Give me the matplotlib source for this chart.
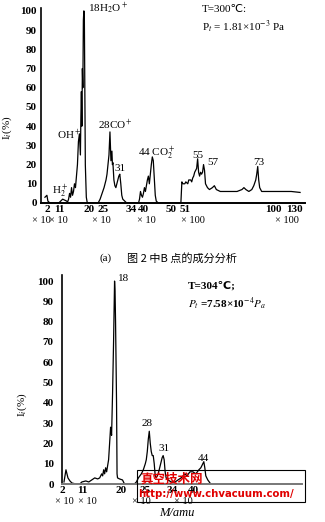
import matplotlib
matplotlib.use("Agg")
import matplotlib.pyplot as plt
from matplotlib.patches import Rectangle

plt.rcParams["font.family"] = ["Liberation Serif", "DejaVu Sans", "Noto Sans CJK SC"]
plt.rcParams["mathtext.fontset"] = "stix"

# spectrum (a): scan position along the recorder axis, intensity in %
scan_a = [0, 2, 3, 5, 14, 16, 18, 20, 22, 23, 24, 25, 26, 27, 28, 29, 30, 31, 32, 33,
          34, 35, 36, 36.5, 37, 37.5, 38, 38.5, 39, 39.5, 40, 40.5, 41, 42, 43, 54,
          56, 58, 60, 61, 62, 63, 64, 65, 66, 66.5, 67, 68, 68.5, 69, 70, 71, 72, 73,
          74, 75, 76, 77, 78, 79, 81, 83, 95, 96, 97, 98, 99, 100, 101, 102, 103, 104,
          105, 106, 107, 108, 109, 110, 111, 112, 113, 115, 138, 139, 140, 142, 143,
          145, 146, 148, 149, 150, 151, 152, 153, 154, 155, 156, 157, 158, 159, 160,
          161, 162, 163, 165, 167, 170, 172, 174, 178, 185, 190, 195, 200, 202, 204,
          207, 210, 212, 214, 215, 216, 217, 218, 220, 230, 240, 250, 259]
int_a = [3, 4, 1, 0, 0, 1, 2, 1.5, 1, 0.5, 2, 5, 3, 8, 4, 6, 10, 8, 14, 20,
         32, 36, 25, 45, 58, 40, 70, 60, 95, 100, 98, 60, 20, 3, 0, 0,
         2, 5, 8, 10, 12, 15, 20, 25, 37, 30, 22, 27, 20, 21, 12, 9, 8, 10,
         12, 14, 15, 10, 4, 2, 1, 0, 0, 2, 6, 4, 3, 5, 8, 6, 9, 12,
         14, 10, 15, 20, 24, 22, 13, 4, 1, 0, 0, 11, 10, 10, 11,
         10, 12, 12, 11, 13, 14, 16, 17, 18, 23, 16, 14, 16, 15, 16,
         20, 17, 10, 8, 7, 8, 9, 7, 6, 6, 6, 6, 7, 8, 7,
         6, 7, 9, 12, 15, 19, 12, 8, 6, 6, 6, 6, 5.5]

# spectrum (b)
scan_b = [0, 1, 2, 3, 4, 6, 8, 12, 16, 18, 22, 25, 28, 31, 34, 36, 38, 39, 40, 41,
          42, 43, 44, 45, 46, 47, 48, 49, 50, 50.5, 51, 51.5, 52, 53, 53.5, 54, 56,
          59, 60, 61, 71, 73, 75, 78, 80, 82, 83, 84, 85, 86, 87, 88, 89, 90, 91,
          92, 93, 95, 97, 99, 100, 101, 102, 103, 105, 108, 112, 118, 122, 124, 127,
          130, 133, 136, 138, 140, 141, 142, 143, 145, 148]
int_b = [1, 4, 7, 5, 3, 1.5, 0.5, 0, 0, 1, 1.5, 1, 2, 3, 2.5, 3, 5, 4, 7, 5,
         8, 6, 9, 12, 20, 28, 24, 45, 70, 85, 100, 95, 80, 40, 5, 3, 2.5,
         2, 1, 0, 0, 1, 3, 5, 7, 10, 12, 16, 22, 26, 20, 16, 14, 14, 10,
         4, 3, 5, 9, 13, 14, 12, 6, 3, 2, 1, 1, 3, 5, 4, 6,
         6, 5, 7, 8, 10, 11, 8, 4, 2, 0]

yticks = [0, 10, 20, 30, 40, 50, 60, 70, 80, 90, 100]

mass_pos_a = [2, 15, 45, 59, 88, 100, 128, 142, 232, 253]
mass_lab_a = ["2", "11", "20", "25", "34", "40", "50", "51", "100", "130"]
gain_pos_a = [-4, 14, 57, 103, 150, 246]
gain_lab_a = ["× 10", "× 10", "× 10", "× 10", "× 100", "× 100"]

mass_pos_b = [-2, 18, 58, 82, 109, 131]
mass_lab_b = ["2", "11", "20", "25", "34", "40"]
gain_pos_b = [0, 24, 78, 120]
gain_lab_b = ["× 10", "× 10", "× 10", "× 10"]


def style_axis(ax, spine_color, ypad):
    for s in ["top", "right"]:
        ax.spines[s].set_visible(False)
    ax.spines["left"].set_linewidth(1.2)
    ax.spines["bottom"].set_linewidth(1.4)
    ax.spines["bottom"].set_color(spine_color)
    ax.set_yticks(yticks)
    ax.set_yticklabels([str(v) for v in yticks], fontsize=8, fontweight="bold")
    ax.tick_params(axis="y", length=0, pad=ypad)
    ax.tick_params(axis="x", which="major", length=0, pad=1.5, labelsize=8)
    ax.tick_params(axis="x", which="minor", length=0, pad=9.5, labelsize=7.5)


fig = plt.figure(figsize=(3.25, 5.22), dpi=100)

# ---- (a)
ax1 = fig.add_axes([41 / 325, 319 / 522, 264 / 325, 195 / 522])
ax1.plot(scan_a, int_a, color="black", lw=0.9)
ax1.set_xlim(0, 264)
ax1.set_ylim(0, 101.5)
style_axis(ax1, "black", 3)
ax1.set_xticks(mass_pos_a)
ax1.set_xticklabels(mass_lab_a, fontweight="bold")
ax1.set_xticks(gain_pos_a, minor=True)
ax1.set_xticklabels(gain_lab_a, minor=True)

lab = dict(fontsize=8, va="center", ha="left", clip_on=False)
ax1.text(44, 101.5, "18H$_2$O$^+$", **lab)
ax1.text(12, 35.4, "OH$^+$", **lab)
ax1.text(54, 40.5, "28CO$^+$", **lab)
ax1.text(71, 18, "31", **lab)
ax1.text(94, 26, "44 CO$_2^+$", **lab)
ax1.text(150, 24.5, "55", **lab)
ax1.text(165, 21, "57", **lab)
ax1.text(211, 21, "73", **lab)
ax1.text(7, 6, "H$_2^+$", **lab)
ax1.text(159, 100.5, "T=300℃:", fontsize=8, va="center", ha="left")
ax1.text(159, 92, "P$_t$ = 1.81×10$^{-3}$ Pa", fontsize=8, va="center", ha="left")

fig.text(7 / 325, 1 - 128 / 522, "I$_i$(%)", rotation=90, fontsize=8,
         ha="center", va="center")

fig.text(100 / 325, 1 - 258 / 522, "(a)", fontsize=8, ha="left", va="center")
fig.text(127 / 325, 1 - 258 / 522, "图 2 中B 点的成分分析", fontsize=8,
         ha="left", va="center", family=["Noto Sans CJK SC", "DejaVu Sans"])

# ---- (b)
ax2 = fig.add_axes([62 / 325, 38 / 522, 240 / 325, 209 / 522])
ax2.plot(scan_b, int_b, color="black", lw=0.9)
ax2.set_xlim(0, 240)
ax2.set_ylim(0, 103)
style_axis(ax2, "#777777", 6)
ax2.set_xticks(mass_pos_b)
ax2.set_xticklabels(mass_lab_b, fontweight="bold")
ax2.set_xticks(gain_pos_b, minor=True)
ax2.set_xticklabels(gain_lab_b, minor=True)

ax2.text(54, 101.5, "18", **lab)
ax2.text(78, 30, "28", **lab)
ax2.text(95, 17.7, "31", **lab)
ax2.text(135, 12.8, "44", **lab)
ax2.text(125, 97.5, "T=304℃;", fontsize=8, va="center", ha="left", fontweight="bold")
ax2.text(125, 89, "$P_t$ =7.58×10$^{-4}$$P_a$", fontsize=8, va="center", ha="left",
         fontweight="bold")
ax2.text(114, -14.3, "M/amu", fontsize=9, style="italic", ha="center", va="center",
         clip_on=False)

fig.text(22 / 325, 1 - 405 / 522, "I$_i$(%)", rotation=90, fontsize=8,
         ha="center", va="center")

# watermark box
fig.patches.append(Rectangle((137 / 325, 20 / 522), 168 / 325, 32 / 522,
                             transform=fig.transFigure, fill=False,
                             edgecolor="black", lw=0.8, zorder=10))
fig.text(140 / 325, 1 - 479 / 522, "真空技术网", color="#e00000", fontsize=9,
         fontweight="bold", ha="left", va="center", zorder=11,
         family=["Noto Sans CJK SC", "DejaVu Sans"])
fig.text(138 / 325, 1 - 494 / 522, "http://www.chvacuum.com/", color="#e00000",
         fontsize=7.3, fontweight="bold", ha="left", va="center", zorder=11,
         family="DejaVu Sans")

fig.savefig("out.png", dpi=100)
